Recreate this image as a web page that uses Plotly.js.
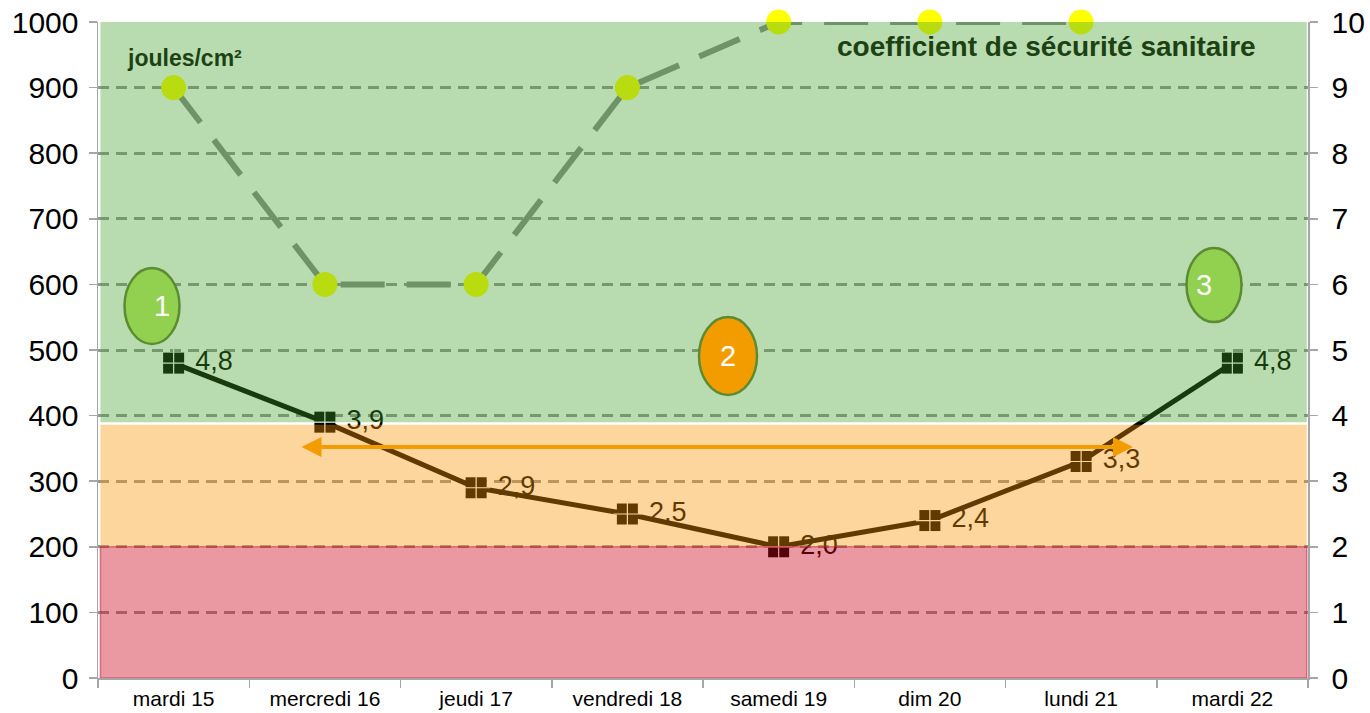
<!DOCTYPE html>
<html>
<head>
<meta charset="utf-8">
<script src="https://cdn.plot.ly/plotly-3.0.1.min.js"></script>
<style>html,body{margin:0;padding:0;background:#fff;}#chart{width:1370px;height:713px;}</style>
</head>
<body>
<div id="chart"></div>
<script>
// ---- data ----
const days = ['mardi 15','mercredi 16','jeudi 17','vendredi 18','samedi 19','dim 20','lundi 21','mardi 22'];
const energy = [900, 600, 600, 900, 1000, 1000, 1000, null];      // joules/cm² (left axis)
const coef = [4.8, 3.9, 2.9, 2.5, 2.0, 2.4, 3.3, 4.8];             // coefficient de sécurité sanitaire (right axis)
const coefLabels = coef.map(v => '\u00a0' + v.toFixed(1).replace('.', ','));
const zoneRed = [0, 2.0];
const zoneOrange = [2.0, 3.86];
const zoneGreen = [3.9, 10];
const leftTicks = [0,100,200,300,400,500,600,700,800,900,1000];
const rightTicks = [0,1,2,3,4,5,6,7,8,9,10];

const FONT = 'Liberation Sans, Arial, sans-serif';
const L = 98, R = 1308, T = 22, B = 678;
const px = x => (x - L) / (R - L);
const py = y => (B - y) / (B - T);

const traces = [
  {
    x: days, y: energy, type: 'scatter', mode: 'lines+markers', yaxis: 'y',
    line: {color: '#8c8c8c', width: 6, dash: '44px,22px'},
    marker: {color: '#ffff00', size: 25},
    cliponaxis: false, hoverinfo: 'skip'
  },
  {
    x: days, y: coef, type: 'scatter', mode: 'lines+markers+text', yaxis: 'y2',
    line: {color: '#000000', width: 5},
    marker: {color: '#000000', size: 21, symbol: 'square'},
    text: coefLabels, textposition: 'middle right',
    textfont: {family: FONT, size: 27, color: '#000000'},
    cliponaxis: false, hoverinfo: 'skip'
  },
  {
    x: days, y: coef, type: 'scatter', mode: 'markers', yaxis: 'y2',
    marker: {symbol: 'cross-thin', size: 20, color: '#ffffff', line: {color: '#ffffff', width: 1.2}},
    cliponaxis: false, hoverinfo: 'skip'
  }
];

const ellipse = (cx, cy, w, h, fill) => ({
  type: 'circle', xref: 'paper', yref: 'paper', layer: 'above',
  x0: px(cx - w/2), x1: px(cx + w/2), y0: py(cy + h/2), y1: py(cy - h/2),
  fillcolor: fill, line: {color: '#5b8c32', width: 2.5}
});

const shapes = [
  {type: 'rect', xref: 'paper', yref: 'y2', layer: 'above', x0: 0.002, x1: 0.999,
   y0: zoneGreen[0], y1: zoneGreen[1], fillcolor: 'rgba(63,160,41,0.37)', line: {width: 0}},
  {type: 'rect', xref: 'paper', yref: 'y2', layer: 'above', x0: 0.002, x1: 0.999,
   y0: zoneOrange[0], y1: zoneOrange[1], fillcolor: 'rgba(247,150,0,0.39)', line: {width: 0}},
  {type: 'rect', xref: 'paper', yref: 'y2', layer: 'above', x0: 0.002, x1: 0.999,
   y0: zoneRed[0], y1: zoneRed[1], fillcolor: 'rgba(204,4,28,0.41)', line: {color: 'rgba(190,40,60,0.55)', width: 1.5}},
  ellipse(152, 306, 55, 76, '#92d050'),
  ellipse(728, 356, 58, 78, '#f39c00'),
  ellipse(1214, 285, 55, 74, '#92d050')
];

const annotations = [
  {xref: 'paper', yref: 'paper', x: px(152), y: py(306), text: '1', showarrow: false,
   font: {family: FONT, size: 29, color: '#ffffff'}},
  {xref: 'paper', yref: 'paper', x: px(728), y: py(356), text: '2', showarrow: false,
   font: {family: FONT, size: 29, color: '#ffffff'}},
  {xref: 'paper', yref: 'paper', x: px(1214), y: py(285), text: '3', showarrow: false,
   font: {family: FONT, size: 29, color: '#ffffff'}},
  {xref: 'paper', yref: 'paper', x: px(1133), y: py(447), ax: -(1133 - 300), ay: 0,
   axref: 'pixel', ayref: 'pixel', text: '', showarrow: true, arrowside: 'end+start',
   arrowhead: 2, arrowsize: 1, arrowwidth: 4, arrowcolor: '#f39c00', standoff: 0, startstandoff: 0},
  {xref: 'paper', yref: 'paper', x: px(125), y: py(58), xanchor: 'left', yanchor: 'middle',
   text: '<b>joules/cm²</b>', showarrow: false, font: {family: FONT, size: 23, color: '#1c4213'}},
  {xref: 'paper', yref: 'paper', x: px(1258), y: py(46), xanchor: 'right', yanchor: 'middle',
   text: '<b>coefficient de sécurité sanitaire</b>', showarrow: false, font: {family: FONT, size: 28, color: '#1c4213'}}
];

const layout = {
  width: 1370, height: 713,
  margin: {l: L, r: 1370 - R, t: T, b: 713 - B},
  paper_bgcolor: '#ffffff', plot_bgcolor: '#ffffff',
  showlegend: false,
  font: {family: FONT, color: '#000000'},
  xaxis: {
    type: 'category', range: [-0.5, days.length - 0.5], showgrid: false, zeroline: false,
    showline: true, linecolor: '#a6a6a6', linewidth: 1.5,
    ticks: 'outside', tickson: 'boundaries', ticklen: 8, tickcolor: '#a6a6a6', tickwidth: 1.5,
    tickfont: {family: FONT, size: 21, color: '#000000'}, ticklabelstandoff: 1
  },
  yaxis: {
    range: [0, 1000], tickvals: leftTicks, ticktext: leftTicks.map(String),
    showgrid: true, gridcolor: '#969696', gridwidth: 3, griddash: '11px,7px', zeroline: false,
    showline: true, linecolor: '#a6a6a6', linewidth: 1.5,
    ticks: 'outside', ticklen: 8, tickcolor: '#a6a6a6', tickwidth: 1.5,
    tickfont: {family: FONT, size: 30, color: '#000000'}, ticklabelstandoff: 4
  },
  yaxis2: {
    overlaying: 'y', side: 'right', range: [0, 10], tickvals: rightTicks, ticktext: rightTicks.map(String),
    showgrid: false, zeroline: false,
    showline: true, linecolor: '#a6a6a6', linewidth: 1.5,
    ticks: 'outside', ticklen: 8, tickcolor: '#a6a6a6', tickwidth: 1.5,
    tickfont: {family: FONT, size: 30, color: '#000000'}, ticklabelstandoff: 8
  },
  shapes: shapes,
  annotations: annotations
};

Plotly.newPlot('chart', traces, layout, {staticPlot: true, displayModeBar: false});
</script>
</body>
</html>
